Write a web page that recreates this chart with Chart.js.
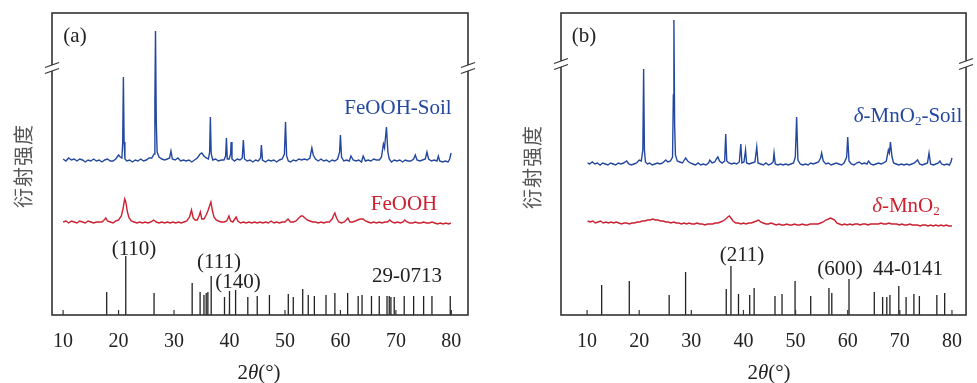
<!DOCTYPE html>
<html>
<head>
<meta charset="utf-8">
<script src="https://cdn.jsdelivr.net/npm/chart.js@4.4.1/dist/chart.umd.min.js"></script>
<style>
body { margin: 0; background: #fff; }
#wrap { position: relative; width: 977px; height: 383px; overflow: hidden; font-family: "Liberation Serif", "Times New Roman", serif; }
canvas { position: absolute; top: 0; }
#chartA { left: 0; }
#chartB { left: 490px; }
.lbl { position: absolute; white-space: nowrap; font-size: 21px; line-height: 1; color: #222; transform: translate(-50%, -50%); }
.blue { color: #2448a0; }
.red { color: #cc2131; }
.ytitle { font-family: "Noto Sans CJK SC", sans-serif; font-size: 20px; color: #555; transform: translate(-50%, -50%) rotate(-90deg); letter-spacing: 1px; }
sub { font-size: 0.62em; vertical-align: -0.3em; line-height: 0; }
</style>
</head>
<body>
<div id="wrap">
  <canvas id="chartA" width="490" height="383"></canvas>
  <canvas id="chartB" width="487" height="383"></canvas>

  <div class="lbl" style="left:75px;top:35px">(a)</div>
  <div class="lbl blue" style="left:398px;top:107px">FeOOH-Soil</div>
  <div class="lbl red" style="left:404px;top:203px">FeOOH</div>
  <div class="lbl" style="left:134px;top:248px">(110)</div>
  <div class="lbl" style="left:219px;top:261px">(111)</div>
  <div class="lbl" style="left:238px;top:281px">(140)</div>
  <div class="lbl" style="left:407px;top:275px">29-0713</div>
  <div class="lbl ytitle" style="left:23px;top:166px">衍射强度</div>
  <div class="lbl" style="left:259px;top:372px">2<i>θ</i>(°)</div>

  <div class="lbl" style="left:584px;top:35px">(b)</div>
  <div class="lbl blue" style="left:908px;top:115px"><i>δ</i>-MnO<sub>2</sub>-Soil</div>
  <div class="lbl red" style="left:906px;top:205px"><i>δ</i>-MnO<sub>2</sub></div>
  <div class="lbl" style="left:742px;top:254px">(211)</div>
  <div class="lbl" style="left:840px;top:268px">(600)</div>
  <div class="lbl" style="left:908px;top:268px">44-0141</div>
  <div class="lbl ytitle" style="left:532px;top:167px">衍射强度</div>
  <div class="lbl" style="left:769px;top:372px">2<i>θ</i>(°)</div>
</div>
<script>
// [2θ, intensity above the trace baseline]
const feoohSoil = [
  [10.0,3],[10.5,1],[11,4],[11.5,2],[12,3],[12.5,1],[13,3],[13.5,2],[14,0],[14.5,2],[15,1],[15.5,3],[16,1],[16.5,2],[17,0],[17.5,2],
  [18,3],[18.5,1],[19,1],[19.5,3],[20.0,7],[20.3,5],[20.6,4],[20.75,20],[20.87,85],[21.0,20],[21.15,3],[21.5,1],[22,2],[22.5,0],
  [23,2],[23.5,1],[24,3],[24.5,1],[25,2],[25.5,4],[26.0,4],[26.4,8],[26.55,60],[26.66,131],[26.8,40],[26.95,10],[27.3,5],[27.8,3],
  [28.3,2],[28.8,3],[29.2,4],[29.45,11],[29.7,3],[30.2,2],[30.7,4],[31.2,1],[31.7,2],[32.2,1],[32.7,2],[33.2,0],[33.7,2],[34.2,4],
  [34.7,8],[35.0,9],[35.4,6],[35.8,4],[36.2,3],[36.42,10],[36.55,45],[36.7,8],[37.0,2],[37.5,3],[38.0,1],[38.5,2],[39.0,2],[39.3,6],
  [39.45,24],[39.6,3],[39.95,3],[40.2,8],[40.3,20],[40.45,3],[40.9,1],[41.4,3],[41.9,2],[42.3,4],[42.5,22],[42.7,3],[43.2,1],[43.7,2],
  [44.2,0],[44.7,2],[45.2,1],[45.6,4],[45.75,17],[45.95,2],[46.5,0],[47,2],[47.5,1],[48,2],[48.5,0],[49,2],[49.5,3],[49.9,8],[50.1,40],
  [50.3,6],[50.6,1],[51,0],[51.5,2],[52,1],[52.5,3],[53,2],[53.5,3],[54,2],[54.5,4],[54.85,14],[55.1,7],[55.5,3],[56,1],[56.5,3],
  [57,1],[57.5,2],[58,0],[58.5,2],[59,1],[59.5,3],[59.85,10],[60.0,27],[60.2,5],[60.6,1],[61.1,2],[61.6,1],[61.9,6],[62.3,2],[62.8,1],
  [63.3,2],[63.8,0],[64.1,6],[64.5,1],[65,2],[65.5,1],[66,3],[66.5,2],[67,2],[67.4,5],[67.75,18],[67.95,14],[68.3,35],[68.55,10],
  [68.8,3],[69.2,0],[69.7,2],[70.2,1],[70.7,2],[71.2,0],[71.7,2],[72.2,1],[72.7,1],[73.2,3],[73.5,7],[73.8,2],[74.3,1],[74.8,2],
  [75.3,3],[75.6,10],[75.9,3],[76.4,1],[76.9,2],[77.4,1],[77.65,6],[77.9,1],[78.4,0],[78.9,1],[79.4,0],[79.7,3],[79.95,9]
];
const feooh = [
  [10.0,2],[10.5,3],[11,1],[11.5,3],[12,2],[12.5,1],[13,3],[13.5,2],[14,1],[14.5,3],[15,2],[15.5,1],[16,2],[16.5,2],[17,2],[17.4,4],
  [17.7,6],[18.0,3],[18.5,2],[19,1],[19.5,3],[20.0,4],[20.5,8],[20.8,15],[21.1,25],[21.3,22],[21.6,12],[21.9,6],[22.3,3],[22.8,2],
  [23.3,1],[23.8,2],[24.3,1],[24.8,2],[25.3,1],[25.8,2],[26.3,4],[26.8,2],[27.3,1],[27.8,2],[28.3,1],[28.8,2],[29.3,1],[29.8,2],
  [30.3,1],[30.8,2],[31.3,1],[31.8,2],[32.3,3],[32.8,7],[33.15,14],[33.45,6],[33.8,4],[34.2,4],[34.5,8],[34.75,12],[35.0,5],[35.4,5],
  [35.8,9],[36.1,13],[36.4,18],[36.65,22],[36.9,14],[37.2,7],[37.6,4],[38.0,3],[38.5,2],[39.0,2],[39.5,3],[39.9,8],[40.2,3],[40.6,2],
  [40.95,5],[41.2,7],[41.5,3],[42,1],[42.5,2],[43,1],[43.5,2],[44,1],[44.5,2],[45,1],[45.5,2],[46,1],[46.5,2],[47,1],[47.5,3],[48,1],
  [48.5,2],[49,1],[49.5,2],[50,2],[50.55,5],[51,2],[51.5,2],[52,3],[52.5,6],[52.9,8],[53.2,8],[53.6,6],[54.0,4],[54.5,3],[55,2],
  [55.5,2],[56,1],[56.5,2],[57,1],[57.5,2],[58,2],[58.5,5],[58.8,9],[59.0,11],[59.3,6],[59.7,2],[60.2,1],[60.7,2],[61.05,4],[61.35,6],
  [61.7,2],[62.2,2],[62.7,3],[63.1,4],[63.6,5],[64.1,5],[64.5,3],[65,2],[65.5,1],[66,2],[66.5,1],[67,2],[67.5,1],[68,2],[68.5,2],
  [68.9,4],[69.3,2],[69.8,1],[70.3,2],[70.8,1],[71.3,2],[71.6,4],[72.0,2],[72.5,1],[73,1],[73.5,2],[74,1],[74.5,1],[75,2],[75.5,1],
  [76,1],[76.5,2],[77,1],[77.5,0],[78,1],[78.5,0],[79,1],[79.5,0],[79.9,1]
];
// PDF 29-0713 stick pattern
const feoohRef = [
  [17.86,23],[21.3,59],[26.4,22],[33.27,32],[34.7,23],[35.4,20],[35.8,22],[36.1,23],[36.7,39],[39.1,18],[40.0,24],[41.1,25],
  [43.3,18],[45.0,19],[47.2,20],[50.6,21],[51.5,18],[53.2,26],[54.2,20],[55.3,19],[57.4,20],[59.0,22],[61.3,22],[63.2,19],
  [63.9,20],[65.6,19],[67.0,19],[68.4,19],[68.8,19],[69.1,18],[69.7,18],[71.5,19],[73.2,19],[75.0,19],[76.5,19],[79.8,19]
];
const mno2Soil = [
  [10.1,2],[10.5,1],[11,3],[11.5,1],[12,2],[12.5,0],[13,2],[13.5,1],[14,0],[14.5,2],[15,1],[15.5,0],[16,2],[16.5,1],[17,2],[17.6,4],
  [18,1],[18.5,0],[19,1],[19.5,2],[20.0,5],[20.4,4],[20.7,15],[20.85,96],[21.0,15],[21.2,3],[21.6,1],[22,2],[22.5,0],[23,1],[23.5,2],
  [24,1],[24.5,2],[25.1,5],[25.5,3],[26.0,4],[26.4,8],[26.55,70],[26.66,145],[26.8,40],[26.95,10],[27.3,4],[27.8,3],[28.3,2],[28.9,7],
  [29.3,4],[29.8,2],[30.3,1],[30.8,0],[31.3,2],[31.8,0],[32.3,1],[32.8,0],[33.3,2],[33.55,5],[34,2],[34.5,3],[34.8,6],[35.1,8],
  [35.4,4],[35.9,2],[36.4,4],[36.6,31],[36.8,4],[37.2,2],[37.7,1],[38.2,2],[38.7,1],[39.2,3],[39.5,21],[39.7,2],[40.1,3],[40.4,15],
  [40.6,2],[41.1,1],[41.6,2],[42.2,3],[42.55,18],[42.8,2],[43.3,1],[43.8,0],[44.3,2],[44.8,0],[45.3,1],[45.7,3],[45.87,12],[46.1,1],
  [46.6,0],[47.1,1],[47.6,0],[48.1,1],[48.6,0],[49.1,1],[49.6,2],[49.95,8],[50.2,48],[50.45,5],[50.9,1],[51.4,0],[51.9,1],[52.4,0],
  [52.9,2],[53.4,1],[53.9,2],[54.4,3],[54.8,7],[55.0,12],[55.3,4],[55.8,1],[56.3,2],[56.8,0],[57.3,1],[57.8,2],[58.3,1],[58.8,0],
  [59.3,2],[59.8,8],[60.0,28],[60.25,4],[60.7,1],[61.2,0],[61.7,2],[62.2,3],[62.7,1],[63.2,2],[63.7,1],[64.0,4],[64.4,1],[64.9,0],
  [65.4,1],[65.9,2],[66.4,1],[66.9,2],[67.4,4],[67.8,15],[68.0,12],[68.2,23],[68.5,8],[68.8,2],[69.3,1],[69.8,0],[70.3,1],[70.8,0],
  [71.3,1],[71.8,0],[72.3,1],[72.8,2],[73.4,5],[73.8,1],[74.3,0],[74.8,1],[75.3,2],[75.6,12],[75.9,1],[76.4,0],[76.9,1],[77.4,2],
  [77.7,4],[78.0,1],[78.5,0],[79.0,1],[79.5,0],[79.8,3],[80.0,7]
];
const mno2 = [
  [10.1,5],[10.6,4],[11.1,5],[11.6,3],[12.1,4],[12.6,5],[13.1,3],[13.6,4],[14.1,3],[14.6,4],[15.1,3],[15.6,4],[16.1,3],[16.6,2],
  [17.1,3],[17.6,3],[18.1,2],[18.6,3],[19.1,3],[19.6,4],[20.1,4],[20.6,5],[21.1,5],[21.6,6],[22.1,6],[22.6,7],[23.1,6],[23.6,6],
  [24.1,5],[24.6,5],[25.1,4],[25.6,4],[26.1,3],[26.6,4],[27.1,3],[27.6,3],[28.1,2],[28.6,3],[29.1,2],[29.6,3],[30.1,2],[30.6,2],
  [31.1,3],[31.6,2],[32.1,2],[32.6,1],[33.1,2],[33.6,2],[34.1,2],[34.6,3],[35.1,3],[35.6,4],[36.1,5],[36.6,7],[37.0,9],[37.3,10],
  [37.6,8],[38.0,5],[38.5,3],[39,3],[39.5,2],[40,3],[40.5,2],[41,3],[41.5,3],[42,4],[42.5,5],[42.9,6],[43.3,4],[43.8,3],[44.3,2],
  [44.8,2],[45.3,3],[45.8,2],[46.3,1],[46.8,2],[47.3,1],[47.8,1],[48.3,2],[48.8,1],[49.3,1],[49.8,2],[50.3,1],[50.8,1],[51.3,2],
  [51.8,1],[52.3,1],[52.8,2],[53.3,2],[53.8,2],[54.3,2],[54.8,3],[55.3,4],[55.8,6],[56.3,7],[56.7,8],[57.1,7],[57.5,6],[57.9,3],
  [58.4,2],[58.9,1],[59.4,2],[59.9,1],[60.4,2],[60.9,1],[61.4,2],[61.9,2],[62.4,1],[62.9,2],[63.4,2],[63.9,1],[64.4,2],[64.9,2],
  [65.4,2],[65.9,2],[66.4,3],[66.9,2],[67.4,2],[67.9,3],[68.4,2],[68.9,2],[69.4,2],[69.9,1],[70.4,2],[70.9,1],[71.4,1],[71.9,2],
  [72.4,1],[72.9,1],[73.4,1],[73.9,0],[74.4,1],[74.9,1],[75.4,0],[75.9,1],[76.4,0],[76.9,1],[77.4,0],[77.9,1],[78.4,0],[78.9,1],
  [79.4,0],[80.0,0]
];
// PDF 44-0141 stick pattern
const mno2Ref = [
  [12.8,30],[18.1,34],[25.75,20],[28.9,43],[36.7,26],[37.6,49],[39.05,21],[41.2,20],[42.05,27],[46.05,19],[47.4,21],[49.9,34],
  [52.9,19],[56.4,27],[56.95,22],[60.25,36],[65.1,23],[66.7,18],[67.5,18],[68.1,20],[69.8,29],[71.2,18],[72.7,21],[73.75,19],
  [77.1,20],[78.6,22]
];
const xTicks = [10, 20, 30, 40, 50, 60, 70, 80];

const BLUE = '#2448a0';
const RED = '#cc2131';
const INK = '#222';

const shift = (arr, off) => arr.map(([x, y]) => ({x: x, y: y + off}));
const sticks = (arr) => {
  const out = [];
  for (const [x, h] of arr) {
    out.push({x: x, y: 0}, {x: x, y: h}, {x: x, y: null});
  }
  return out;
};

const framePlugin = {
  id: 'frame',
  afterDatasetsDraw(chart, args, opts) {
    const {ctx, chartArea: a, scales} = chart;
    ctx.save();
    ctx.strokeStyle = '#333';
    ctx.lineWidth = 1.6;
    ctx.strokeRect(a.left, a.top, a.right - a.left, a.bottom - a.top);
    // inward ticks on the bottom axis
    ctx.lineWidth = 1.2;
    for (const t of xTicks) {
      const px = scales.x.getPixelForValue(t);
      ctx.beginPath();
      ctx.moveTo(px, a.bottom);
      ctx.lineTo(px, a.bottom - 5);
      ctx.stroke();
    }
    // axis break marks
    const by = scales.y.getPixelForValue(opts.breakAt);
    for (const bx of [a.left, a.right]) {
      ctx.fillStyle = '#fff';
      ctx.fillRect(bx - 2, by - 3, 4, 6);
      ctx.strokeStyle = '#333';
      ctx.lineWidth = 1.2;
      for (const d of [-3, 3]) {
        ctx.beginPath();
        ctx.moveTo(bx - 7, by + d + 2.5);
        ctx.lineTo(bx + 7, by + d - 2.5);
        ctx.stroke();
      }
    }
    ctx.restore();
  }
};

function makeChart(id, soil, bare, ref, offSoil, offBare, xmin, xmax, padL, padR, breakAt) {
  return new Chart(document.getElementById(id), {
    type: 'line',
    data: {
      datasets: [
        {data: shift(soil, offSoil), borderColor: BLUE, borderWidth: 1.4, pointRadius: 0, tension: 0},
        {data: shift(bare, offBare), borderColor: RED, borderWidth: 1.4, pointRadius: 0, tension: 0},
        {data: sticks(ref), borderColor: INK, borderWidth: 1.3, pointRadius: 0, spanGaps: false, tension: 0}
      ]
    },
    options: {
      responsive: false,
      animation: false,
      events: [],
      layout: { padding: { left: padL, right: padR, top: 13, bottom: 0 } },
      plugins: { legend: { display: false }, tooltip: { enabled: false }, frame: { breakAt: breakAt } },
      scales: {
        x: {
          type: 'linear', min: xmin, max: xmax,
          grid: { display: false, drawTicks: false },
          border: { display: false },
          afterFit: (s) => { s.height = 68; },
          afterBuildTicks: (s) => { s.ticks = xTicks.map(v => ({value: v})); },
          ticks: { color: INK, padding: 15, font: { family: 'Liberation Serif', size: 20 } }
        },
        y: { display: false, min: 0, max: 302 }
      }
    },
    plugins: [framePlugin]
  });
}

makeChart('chartA', feoohSoil, feooh, feoohRef, 153, 91, 8, 83, 52, 22, 247);
makeChart('chartB', mno2Soil, mno2, mno2Ref, 150, 89, 5, 82.7, 71, 1, 251);
</script>
</body>
</html>
